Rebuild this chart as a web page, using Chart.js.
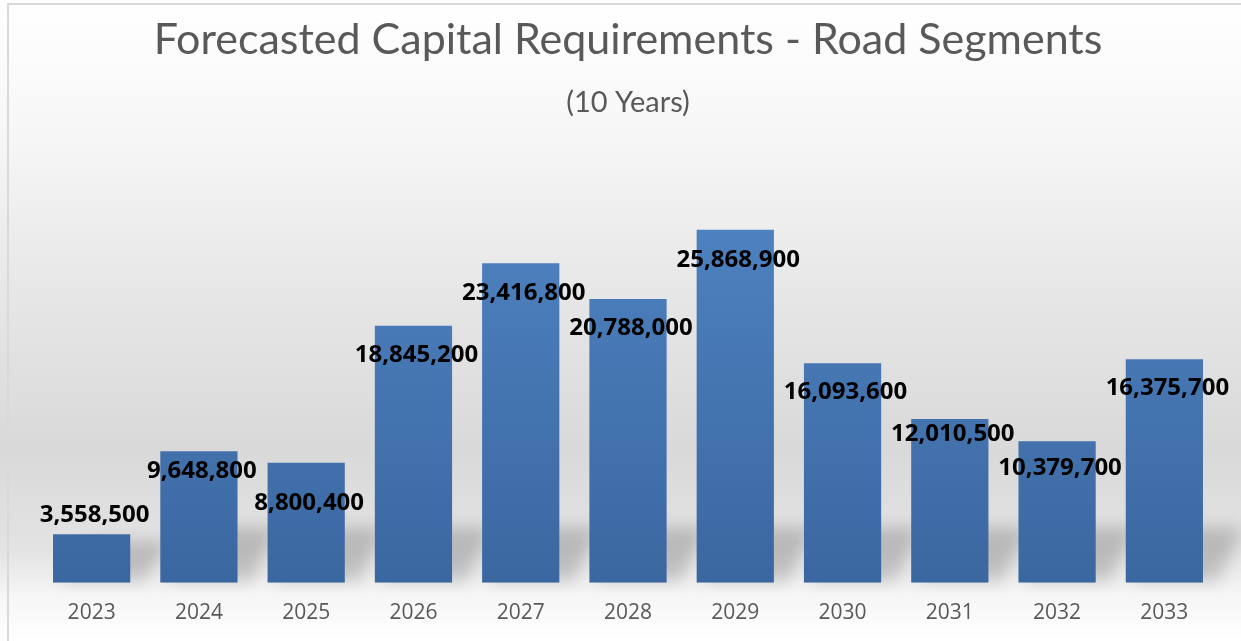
<!DOCTYPE html>
<html>
<head>
<meta charset="utf-8">
<script src="https://cdn.jsdelivr.net/npm/chart.js@4.4.1/dist/chart.umd.min.js"></script>
<style>
  html, body { margin: 0; padding: 0; background: #fff; }
  #wrap { position: absolute; left: 0; top: 0; width: 1241px; height: 641px; }
  #frame { position: absolute; left: 7px; top: 3px; right: 0; bottom: 0;
           border-left: 2px solid #d9d9d9; border-top: 2px solid #d9d9d9; pointer-events: none; }
</style>
</head>
<body>
<div id="wrap">
  <canvas id="myChart"></canvas>
  <div id="frame"></div>
</div>
<script>
const years = ['2023', '2024', '2025', '2026', '2027', '2028', '2029', '2030', '2031', '2032', '2033'];
const capital = [3558500, 9648800, 8800400, 18845200, 23416800, 20788000, 25868900, 16093600, 12010500, 10379700, 16375700];

// how far each value label sits from the top of its bar (px, + is down)
const labelNudge = [-19, 20, 40, 30, 30, 29, 30, 29, 15, 27, 29];

const bgPlugin = {
    id: 'bg',
    beforeDraw(chart) {
        const c = chart.ctx;
        const h = chart.height;
        const g = c.createLinearGradient(0, 0, 0, h);
        g.addColorStop(0, '#ffffff');
        g.addColorStop(0.2, '#f7f7f7');
        g.addColorStop(0.45, '#e7e7e7');
        g.addColorStop(0.7, '#d9d9d9');
        g.addColorStop(0.86, '#e3e3e3');
        g.addColorStop(0.93, '#f6f6f6');
        g.addColorStop(1, '#ffffff');
        c.save();
        c.fillStyle = g;
        c.fillRect(0, 0, chart.width, h);
        c.restore();
    },
    beforeDatasetsDraw(chart) {
        // soft perspective shadow behind the bars
        const c = chart.ctx;
        const meta = chart.getDatasetMeta(0);
        c.save();
        c.filter = 'blur(8px)';
        c.fillStyle = 'rgba(0,0,0,0.18)';
        meta.data.forEach(bar => {
            const left = bar.x - bar.width / 2;
            const right = bar.x + bar.width / 2;
            const hgt = Math.min(bar.base - bar.y, 65);
            c.beginPath();
            c.moveTo(left + 5, bar.base - 2);
            c.lineTo(right + 15, bar.base - 2);
            c.lineTo(right + 40, bar.base - hgt * 0.85);
            c.lineTo(left + 40, bar.base - hgt * 0.85);
            c.closePath();
            c.fill();
        });
        c.restore();
    }
};

const labelPlugin = {
    id: 'valueLabels',
    afterDatasetsDraw(chart) {
        const c = chart.ctx;
        const meta = chart.getDatasetMeta(0);
        c.save();
        c.font = 'bold 24px "Open Sans", sans-serif';
        c.fillStyle = '#000';
        c.textAlign = 'center';
        c.textBaseline = 'middle';
        meta.data.forEach((bar, i) => {
            c.fillText(capital[i].toLocaleString('en-US'), bar.x + 3, bar.y + labelNudge[i]);
        });
        c.restore();
    }
};

chartIt();

function chartIt() {
    const ctx = document.getElementById('myChart');

    const myChart = new Chart(ctx, {
        type: 'bar',
        data: {
            labels: years,
            datasets: [{
                label: 'Capital Requirements',
                data: capital,
                backgroundColor: function(context) {
                    const area = context.chart.chartArea;
                    if (!area) return '#4a7ab8';
                    const g = context.chart.ctx.createLinearGradient(0, area.top, 0, area.bottom);
                    g.addColorStop(0, '#5085c4');
                    g.addColorStop(1, '#3b67a0');
                    return g;
                },
                barPercentage: 0.72,
                categoryPercentage: 1.0,
                borderWidth: 0
            }]
        },
        options: {
            responsive: true,
            maintainAspectRatio: false,
            animation: false,
            layout: { padding: { left: 38, right: 23, top: 0, bottom: 5 } },
            plugins: {
                legend: { display: false },
                tooltip: { enabled: false },
                title: {
                    display: true,
                    text: 'Forecasted Capital Requirements - Road Segments',
                    color: '#595959',
                    font: { family: 'Lato', size: 43, weight: 'normal' },
                    padding: { top: 14, bottom: 20 }
                },
                subtitle: {
                    display: true,
                    text: '(10 Years)',
                    color: '#595959',
                    font: { family: 'Lato', size: 29, weight: 'normal' },
                    padding: { top: 0, bottom: 53 }
                }
            },
            scales: {
                x: {
                    grid: { display: false },
                    border: { display: false },
                    ticks: {
                        color: '#595959',
                        font: { family: '"Open Sans"', size: 21 },
                        padding: 10
                    }
                },
                y: {
                    display: false,
                    min: 0,
                    max: 30000000
                }
            }
        },
        plugins: [bgPlugin, labelPlugin]
    });
}
</script>
</body>
</html>
